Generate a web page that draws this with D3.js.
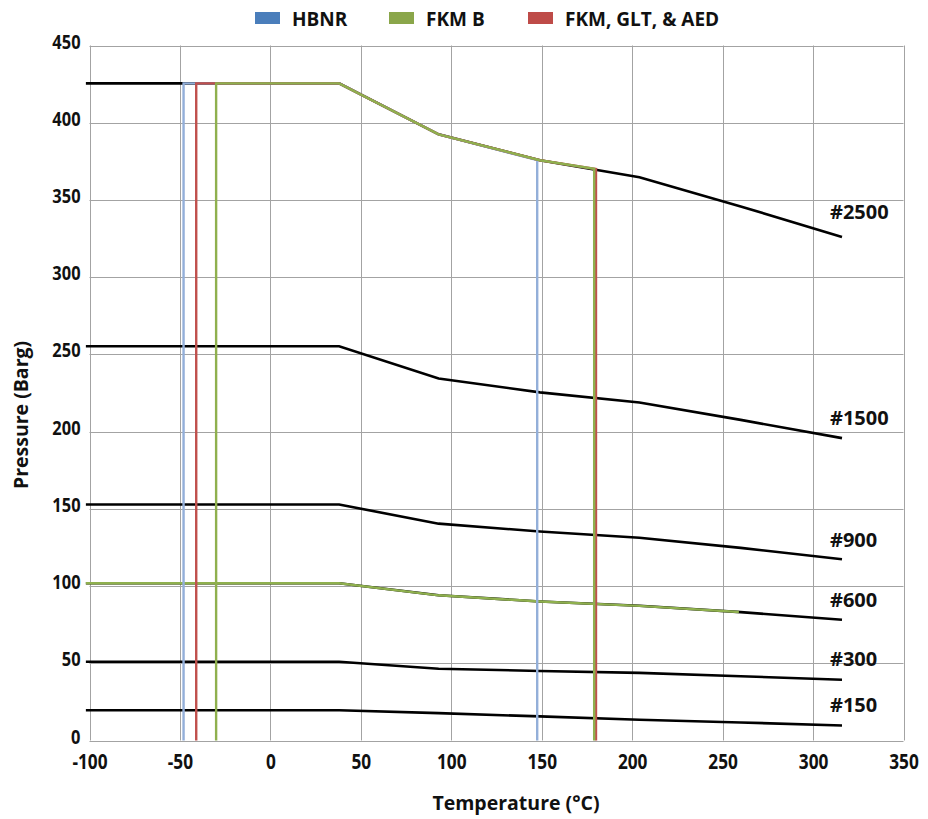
<!DOCTYPE html>
<html>
<head>
<meta charset="utf-8">
<script src="https://cdn.jsdelivr.net/npm/d3@7"></script>
<style>
  html, body { margin: 0; padding: 0; background: #fff; }
  svg { display: block; }
  .tick-label { font-family: "Open Sans", sans-serif; font-weight: bold; font-size: 21px; fill: #111; }
  .title { font-family: "Open Sans", sans-serif; font-weight: bold; font-size: 19.5px; fill: #111; }
  .legend-text { font-family: "Open Sans", sans-serif; font-weight: bold; font-size: 19px; fill: #111; }
  .class-label { font-family: "Open Sans", sans-serif; font-weight: bold; font-size: 20px; fill: #111; }
</style>
</head>
<body>
<svg id="chart" width="928" height="819"></svg>
<script>
// ---- Data ----
const temps = [-102, 38, 93, 149, 204, 260, 316];           // °C
const class150  = [19.6, 19.6, 17.7, 15.6, 13.4, 11.7, 9.7];
const class300  = [51.0, 51.0, 46.5, 45.0, 43.8, 41.6, 39.3];
const class600  = [101.8, 101.8, 94.0, 90.0, 87.2, 83.1, 78.2];
const class900  = [152.8, 152.8, 140.4, 135.3, 131.3, 124.7, 117.4];
const class1500 = [255.3, 255.3, 234.4, 225.4, 218.9, 207.6, 195.8];
const class2500 = [425.5, 425.5, 392.5, 375.7, 364.7, 345.8, 326.0];
const classNames = ["#150", "#300", "#600", "#900", "#1500", "#2500"];

// FKM B overlay on the #600 curve (ends at 260 °C)
const fkmB600Temps  = [-102, 38, 93, 149, 204, 259];
const fkmB600Values = [101.8, 101.8, 94.0, 90.0, 87.2, 83.2];

// Seal limit envelopes (temperature, pressure)
const hbnrT  = [-48, -48, 38, 93, 147.5, 147.5];
const hbnrP  = [0, 425.5, 425.5, 392.5, 375.8, 0];
const fkmAedT = [-41, -41, 38, 93, 149, 180, 180];
const fkmAedP = [0, 425.5, 425.5, 392.5, 375.7, 370.0, 0];
const fkmBT  = [-30, -30, 38, 93, 149, 179, 179];
const fkmBP  = [0, 425.5, 425.5, 392.5, 375.7, 370.2, 0];

const legendNames = ["HBNR", "FKM B", "FKM, GLT, & AED"];
const xTicks = [-100, -50, 0, 50, 100, 150, 200, 250, 300, 350];
const yTicks = [0, 50, 100, 150, 200, 250, 300, 350, 400, 450];

// ---- Layout ----
const svg = d3.select("#chart");
const mLeft = 89.5, mRight = 903.5, mTop = 45.5, mBottom = 740.5;
const x = d3.scaleLinear().domain([-100, 350]).range([mLeft, mRight]);
const y = d3.scaleLinear().domain([0, 450]).range([mBottom, mTop]);

const colBlueLine = "#93afd9", colRed = "#c0504d", colGreen = "#8fb04e";
const legendColors = ["#4a7ebb", "#8aa64a", "#be4b48"];

function condense(sel, k) {
  sel.each(function () {
    const w = this.getComputedTextLength();
    d3.select(this).attr("textLength", w * k).attr("lengthAdjust", "spacingAndGlyphs");
  });
}

// Grid
const grid = svg.append("g");
grid.selectAll("line.v").data(xTicks).join("line")
  .attr("x1", d => Math.round(x(d)) + 0.5).attr("x2", d => Math.round(x(d)) + 0.5)
  .attr("y1", y(450)).attr("y2", y(0))
  .attr("stroke", "#a3a3a3").attr("stroke-width", 1);
grid.selectAll("line.h").data(yTicks).join("line")
  .attr("y1", d => Math.round(y(d)) + 0.5).attr("y2", d => Math.round(y(d)) + 0.5)
  .attr("x1", x(-100)).attr("x2", x(350))
  .attr("stroke", "#a3a3a3").attr("stroke-width", 1);

// Axes (labels only, no tick marks)
const xAxis = d3.axisBottom(x).tickValues(xTicks).tickSize(0).tickPadding(0).tickFormat(d => String(d));
const gx = svg.append("g").attr("transform", `translate(0,${mBottom})`).call(xAxis);
gx.select(".domain").remove();
gx.selectAll("text").attr("class", "tick-label").attr("dy", null).attr("y", 28);
condense(gx.selectAll("text"), 0.82);

const yAxis = d3.axisLeft(y).tickValues(yTicks).tickSize(0).tickPadding(0).tickFormat(d => String(d));
const gy = svg.append("g").attr("transform", `translate(${mLeft - 9},0)`).call(yAxis);
gy.select(".domain").remove();
gy.selectAll("text").attr("class", "tick-label").attr("dy", null).attr("y", 2.5).attr("x", 0)
  .style("font-size", "20px");
condense(gy.selectAll("text"), 0.82);

// Axis titles
svg.append("text").attr("class", "title")
  .attr("x", 516).attr("y", 810).attr("text-anchor", "middle").text("Temperature (°C)");
svg.append("text").attr("class", "title")
  .attr("transform", "translate(28,415) rotate(-90)").attr("text-anchor", "middle").text("Pressure (Barg)");

// Class curves
const line = d3.line().x(d => x(d[0])).y(d => y(d[1]));
const classSeries = [class150, class300, class600, class900, class1500, class2500];
const curves = classSeries.map(vals => temps.map((t, i) => [t, vals[i]]));
svg.append("g").selectAll("path").data(curves).join("path")
  .attr("d", line).attr("fill", "none").attr("stroke", "#000").attr("stroke-width", 2.6);

// FKM B overlay on #600
svg.append("path").datum(fkmB600Temps.map((t, i) => [t, fkmB600Values[i]]))
  .attr("d", line).attr("fill", "none").attr("stroke", colGreen).attr("stroke-width", 2.4);

// Seal envelopes
const envs = [
  { t: hbnrT, p: hbnrP, c: colBlueLine },
  { t: fkmAedT, p: fkmAedP, c: colRed },
  { t: fkmBT, p: fkmBP, c: colGreen }
];
svg.append("g").selectAll("path").data(envs).join("path")
  .attr("d", e => line(e.t.map((t, i) => [t, e.p[i]])))
  .attr("fill", "none").attr("stroke", e => e.c).attr("stroke-width", 2.4)
  .attr("stroke-linejoin", "miter");

// Class labels near line ends
const labelLift = [21, 21, 20, 20, 21, 26];
svg.append("g").selectAll("text").data(curves).join("text")
  .attr("class", "class-label")
  .attr("x", d => x(d[d.length - 1][0]) - 12)
  .attr("y", (d, i) => y(d[d.length - 1][1]) - labelLift[i])
  .attr("dominant-baseline", "central")
  .text((d, i) => classNames[i]);

// Legend
const legendX = [255, 389, 528];
const lg = svg.append("g");
legendNames.forEach((name, i) => {
  lg.append("rect").attr("x", legendX[i]).attr("y", 12).attr("width", 25).attr("height", 12)
    .attr("fill", legendColors[i]);
  lg.append("text").attr("class", "legend-text").attr("x", legendX[i] + 37).attr("y", 25.5).text(name);
});
</script>
</body>
</html>
